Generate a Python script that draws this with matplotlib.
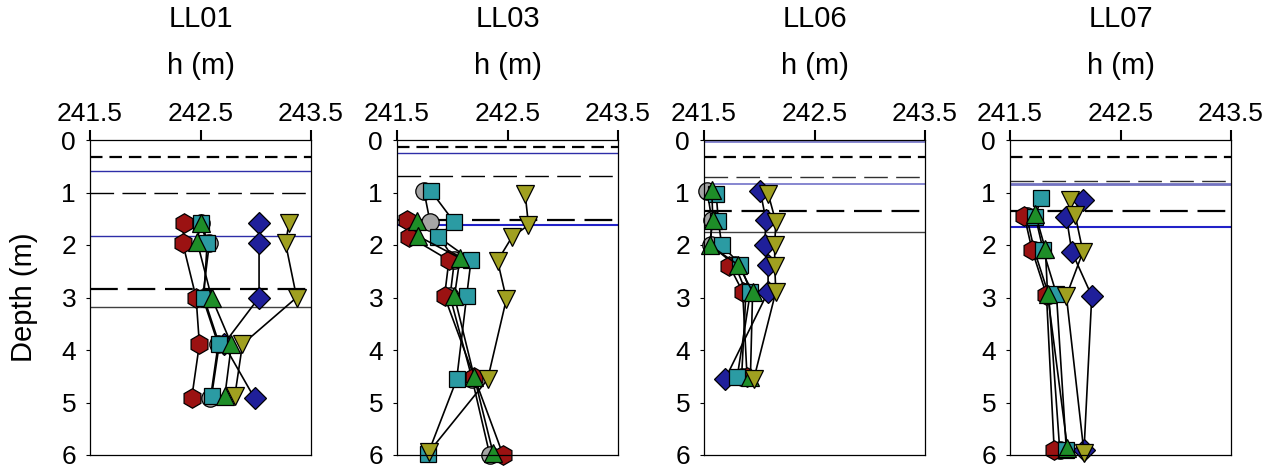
import matplotlib
matplotlib.use("Agg")
import matplotlib.pyplot as plt

plt.rcParams['font.family'] = ['Liberation Sans', 'DejaVu Sans']
plt.rcParams['lines.scale_dashes'] = False

sites = ["LL01", "LL03", "LL06", "LL07"]
series_names = ["grey", "blue", "red", "teal", "green", "olive"]

# ---- LL01 ----
LL01_depth = {
    "grey":  [1.59, 1.97, 3.00, 3.89, 4.92],
    "blue":  [1.59, 1.97, 3.00, 3.89, 4.92],
    "red":   [1.59, 1.97, 3.00, 3.89, 4.92],
    "teal":  [1.58, 1.97, 3.00, 3.89, 4.88],
    "green": [1.59, 1.94, 3.00, 3.89, 4.88],
    "olive": [1.59, 1.97, 3.00, 3.89, 4.88],
}
LL01_h = {
    "grey":  [242.50, 242.58, 242.52, 242.66, 242.59],
    "blue":  [243.03, 243.03, 243.03, 242.71, 242.99],
    "red":   [242.35, 242.34, 242.46, 242.49, 242.42],
    "teal":  [242.50, 242.56, 242.53, 242.67, 242.60],
    "green": [242.50, 242.47, 242.60, 242.78, 242.72],
    "olive": [243.30, 243.27, 243.37, 242.88, 242.81],
}
LL01_levels = [0.33, 0.59, 1.00, 1.83, 2.83, 3.18]
LL01_kinds = ["thick", "blue", "thin", "blue", "long", "solid"]

# ---- LL03 ----
LL03_depth = {
    "grey":  [0.98, 1.57, 2.29, 2.98, 4.55, 6.00],
    "blue":  [],
    "red":   [1.52, 1.84, 2.29, 2.98, 4.52, 6.00],
    "teal":  [0.98, 1.57, 1.84, 2.29, 2.98, 4.56, 5.98],
    "green": [1.54, 1.83, 2.25, 2.98, 4.52, 5.97],
    "olive": [1.03, 1.62, 1.85, 2.30, 3.03, 4.56, 5.94],
}
LL03_h = {
    "grey":  [241.745, 241.80, 242.02, 241.98, 242.18, 242.34],
    "blue":  [],
    "red":   [241.59, 241.61, 241.97, 241.93, 242.20, 242.46],
    "teal":  [241.81, 242.02, 241.87, 242.17, 242.13, 242.04, 241.78],
    "green": [241.68, 241.69, 242.07, 242.02, 242.20, 242.37],
    "olive": [242.66, 242.69, 242.54, 242.41, 242.49, 242.32, 241.79],
}
LL03_levels = [0.14, 0.24, 0.69, 1.52, 1.62]
LL03_kinds = ["thick", "blue", "thin", "long", "bluebold"]

# ---- LL06 ----
LL06_depth = {
    "grey":  [0.98, 1.52, 2.00, 2.38, 2.89, 4.52],
    "blue":  [0.98, 1.52, 2.00, 2.38, 2.89, 4.56],
    "red":   [2.40, 2.89, 4.52],
    "teal":  [1.02, 1.54, 2.00, 2.38, 2.89, 4.52],
    "green": [0.95, 1.52, 2.00, 2.38, 2.89, 4.52],
    "olive": [1.02, 1.56, 2.00, 2.40, 2.89, 4.56],
}
LL06_h = {
    "grey":  [241.53, 241.57, 241.56, 241.78, 241.88, 241.84],
    "blue":  [242.01, 242.06, 242.05, 242.08, 242.08, 241.69],
    "red":   [241.73, 241.85, 241.89],
    "teal":  [241.61, 241.63, 241.66, 241.83, 241.92, 241.80],
    "green": [241.57, 241.58, 241.55, 241.81, 241.94, 241.92],
    "olive": [242.08, 242.15, 242.14, 242.14, 242.15, 241.95],
}
LL06_levels = [0.04, 0.33, 0.71, 0.84, 1.35, 1.75]
LL06_kinds = ["bluelight", "thick", "thingrey", "bluelight", "long", "solid"]

# ---- LL07 ----
LL07_depth = {
    "grey":  [1.45, 2.10, 2.95, 5.90],
    "blue":  [1.14, 1.46, 2.13, 2.97, 5.90],
    "red":   [1.45, 2.10, 2.95, 5.90],
    "teal":  [1.11, 1.46, 2.10, 2.93, 5.90],
    "green": [1.41, 2.08, 2.93, 5.87],
    "olive": [1.14, 1.43, 2.13, 2.97, 5.96],
}
LL07_h = {
    "grey":  [241.65, 241.72, 241.85, 241.95],
    "blue":  [242.16, 242.01, 242.06, 242.24, 242.17],
    "red":   [241.63, 241.70, 241.83, 241.90],
    "teal":  [241.78, 241.73, 241.80, 241.92, 242.01],
    "green": [241.73, 241.82, 241.84, 242.02],
    "olive": [242.04, 242.09, 242.16, 242.01, 242.17],
}
LL07_levels = [0.32, 0.79, 0.84, 1.35, 1.66]
LL07_kinds = ["thick", "thingrey", "bluelightbold", "long", "bluebold"]

xticks = [241.5, 242.5, 243.5]
xticklabels = ["241.5", "242.5", "243.5"]
yticks = [0, 1, 2, 3, 4, 5, 6]

panels = [
    (LL01_depth, LL01_h, LL01_levels, LL01_kinds),
    (LL03_depth, LL03_h, LL03_levels, LL03_kinds),
    (LL06_depth, LL06_h, LL06_levels, LL06_kinds),
    (LL07_depth, LL07_h, LL07_levels, LL07_kinds),
]

marker_style = {
    "grey":  dict(marker="o", color="#A5A5A5", ms=12.5),
    "blue":  dict(marker="D", color="#1F1F9A", ms=11),
    "red":   dict(marker="h", color="#9B1212", ms=14),
    "teal":  dict(marker="s", color="#2B9BA3", ms=11.5),
    "green": dict(marker="^", color="#1E8E28", ms=13.5),
    "olive": dict(marker="v", color="#A0A020", ms=13.5),
}

line_style = {
    "thick":         dict(color="black", lw=1.6, dashes=(9, 5)),
    "thin":          dict(color="black", lw=1.0, dashes=(17, 6)),
    "thingrey":      dict(color="#303030", lw=1.0, dashes=(17, 6)),
    "long":          dict(color="black", lw=1.6, dashes=(20, 7)),
    "solid":         dict(color="#404040", lw=1.0),
    "blue":          dict(color="#2E2EA8", lw=1.0),
    "bluebold":      dict(color="#2222C8", lw=1.5),
    "bluelight":     dict(color="#7272C8", lw=1.2),
    "bluelightbold": dict(color="#7272C0", lw=2.0),
}

fig = plt.figure(figsize=(12.76, 4.67), dpi=100)
lefts = [90, 397, 704, 1010]
W, H = 1276, 467
top_px, bot_px = 140, 455
width_px = 221
ax_h = bot_px - top_px

for i, (site, (dep, hv, levels, kinds)) in enumerate(zip(sites, panels)):
    ax = fig.add_axes([lefts[i] / W, 1 - bot_px / H, width_px / W, ax_h / H])
    for lvl, kind in zip(levels, kinds):
        ax.axhline(lvl, zorder=1, **line_style[kind])
    for name in series_names:
        if len(dep[name]) == 0:
            continue
        st = marker_style[name]
        ax.plot(hv[name], dep[name], color="black", lw=1.2, zorder=2,
                marker=st["marker"], ms=st["ms"], mfc=st["color"],
                mec="black", mew=0.9, clip_on=False)
    ax.set_xlim(241.5, 243.5)
    ax.set_ylim(6, 0)
    ax.xaxis.tick_top()
    ax.xaxis.set_label_position("top")
    ax.set_xticks(xticks)
    ax.set_xticklabels(xticklabels)
    ax.set_yticks(yticks)
    ax.tick_params(axis="x", direction="out", length=7, width=1.5, labelsize=19, pad=3)
    ax.tick_params(axis="y", direction="out", length=3, width=0.8, labelsize=19, pad=7)
    ax.set_xlabel("h (m)", fontsize=21, labelpad=20)
    ax.set_title(site, fontsize=21, y=(bot_px - 27) / ax_h, va="center")
    for s in ax.spines.values():
        s.set_linewidth(0.9)
    if i == 0:
        ax.set_ylabel("Depth (m)", fontsize=21, labelpad=17)

fig.savefig("out.png", dpi=100)
